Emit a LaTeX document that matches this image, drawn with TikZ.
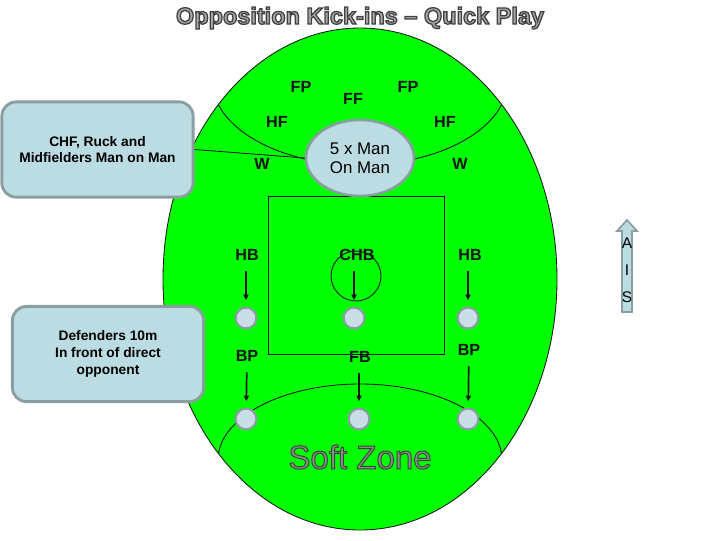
\documentclass[tikz,border=0pt]{standalone}
\usepackage{fontspec}
\setmainfont{Liberation Sans}
\usepackage{tikz}
\usetikzlibrary{shapes.geometric, arrows.meta, positioning}
\definecolor{pitchgreen}{RGB}{0,255,0}
\definecolor{calloutfill}{RGB}{186,220,226}
\definecolor{calloutedge}{RGB}{138,157,160}
\definecolor{discfill}{RGB}{202,222,231}
\definecolor{titlegrey}{RGB}{168,168,168}
\definecolor{zonegrey}{RGB}{126,150,126}
\definecolor{inkdark}{RGB}{20,20,20}
\newcommand\outlined[2][0.9]{\special{pdf:literal direct 2 Tr #1 w 0.25 0.25 0.25 RG}#2\special{pdf:literal direct 0 Tr 0.4 w}}
\tikzset{
  fieldline/.style={draw=inkdark, line width=0.6pt},
  callout/.style={rectangle, draw=calloutedge, fill=calloutfill, line width=2pt, rounded corners=10pt,
    align=center, minimum width=4.78cm, minimum height=2.38cm, font=\bfseries\fontsize{9.8}{11.9}\selectfont},
  manoval/.style={ellipse, draw=calloutedge, fill=calloutfill, line width=1.8pt, align=center,
    minimum width=2.7cm, minimum height=1.9cm, inner sep=0pt, font=\fontsize{12}{13.7}\selectfont},
  poslabel/.style={font=\bfseries\fontsize{11.5}{13}\selectfont, text=inkdark, inner sep=1pt},
  disc/.style={circle, draw=calloutedge, fill=discfill, line width=1.5pt, minimum size=0.52cm, inner sep=0pt},
  posarrow/.style={-{Triangle[length=4pt, width=3.6pt]}, draw=inkdark, line width=1.2pt,
    shorten <=6.4pt, shorten >=4.5pt},
  aisarrow/.style={draw=calloutedge, fill=calloutfill, line width=1.2pt, line join=miter},
  titletext/.style={font=\bfseries\fontsize{16.7}{20}\selectfont, text=titlegrey},
  zonetext/.style={font=\fontsize{23.5}{28}\selectfont, text=zonegrey}
}

\begin{document}
\begin{tikzpicture}[x=0.025cm, y=-0.025cm]
  \useasboundingbox (0,0) rectangle (720,540);
  % pitch
  \draw[fieldline, fill=pitchgreen] (360,279) ellipse[x radius=197, y radius=251];
  \begin{scope}
    \clip (360,279) ellipse[x radius=197, y radius=251];
    % forward arc and soft zone arc
    \draw[fieldline] (212,80) arc[start angle=180, end angle=0, x radius=148, y radius=85];
    \draw[fieldline] (218,460) arc[start angle=180, end angle=360, x radius=142, y radius=76];
  \end{scope}
  % centre square and ring
  \draw[fieldline] (268,196) rectangle (444,354);
  \draw[fieldline] (356,276) circle[radius=25];

  % callouts
  \node[callout] (chf) at (97.5,149.5) {CHF, Ruck and\\Midfielders Man on Man};
  \node[manoval] (mom) at (360,158) {5 x Man\\On Man};
  \draw[fieldline] (chf.east) -- (mom.west);
  \node[callout] (def) at (108,354) {Defenders 10m\\In front of direct\\opponent};

  % forwards
  \node[poslabel] (fpL) at (301,87) {FP};
  \node[poslabel] (ff) at (353,99) {FF};
  \node[poslabel] (fpR) at (408,87) {FP};
  \node[poslabel] (hfL) at (277,122) {HF};
  \node[poslabel] (hfR) at (445,122) {HF};
  \node[poslabel] (wL) at (262,164) {W};
  \node[poslabel] (wR) at (460,164) {W};

  % backs
  \node[poslabel] (hbL) at (247,255) {HB};
  \node[poslabel] (chb) at (357,255) {CHB};
  \node[poslabel] (hbR) at (470,255) {HB};
  \node[poslabel] (bpL) at (247,356) {BP};
  \node[poslabel] (fb) at (360,357) {FB};
  \node[poslabel] (bpR) at (469,350) {BP};

  \node[disc] (dhbL) at (246,318) {};
  \node[disc] (dchb) at (354,318) {};
  \node[disc] (dhbR) at (468,318) {};
  \node[disc] (dbpL) at (246,419) {};
  \node[disc] (dfb) at (359,419) {};
  \node[disc] (dbpR) at (468,419) {};

  \draw[posarrow] (hbL.south -| dhbL) -- (dhbL);
  \draw[posarrow] (chb.south -| dchb) -- (dchb);
  \draw[posarrow] (hbR.south -| dhbR) -- (dhbR);
  \draw[posarrow] (bpL) -- (dbpL);
  \draw[posarrow] (fb.south -| dfb) -- (dfb);
  \draw[posarrow] (bpR) -- (dbpR);

  % AIS arrow
  \draw[aisarrow] (622,312) -- (632,312) -- (632,231) -- (637,231) -- (627,220)
    -- (617,231) -- (622,231) -- cycle;
  \node[font=\fontsize{11}{19.1}\selectfont, align=center] (ais) at (627,270) {A\\I\\S};

  \node[zonetext] (soft) at (360,457) {\outlined[0.7]{Soft Zone}};
  \node[titletext] (title) at (360,18) {\outlined{Opposition Kick-ins -- Quick Play}};
\end{tikzpicture}
\end{document}
